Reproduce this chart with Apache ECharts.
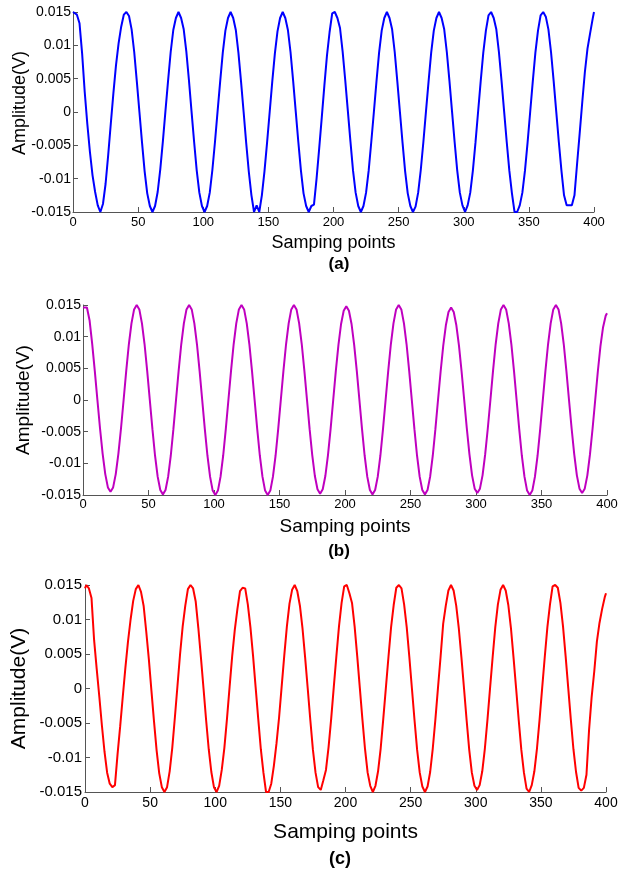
<!DOCTYPE html>
<html>
<head>
<meta charset="utf-8">
<title>Sampled waveforms</title>
<script src="https://cdn.jsdelivr.net/npm/echarts@6/dist/echarts.min.js"></script>
<style>
  html, body { margin: 0; padding: 0; background: #fff; }
  #chart { width: 619px; height: 875px; }
</style>
</head>
<body>
<div id="chart"></div>
<script>
// Sample index of every stored point: 0, then odd samples 1..399, then 400.
const samplePos = [0];
for (let s = 1; s < 400; s += 2) samplePos.push(s);
samplePos.push(400);

// Axis ticks
const xTicks = [0, 50, 100, 150, 200, 250, 300, 350, 400];
const yTicks = [-0.015, -0.01, -0.005, 0, 0.005, 0.01, 0.015];

// (a) measured signal, volts (one row per 40-sample period)
const signalA = [
  0.0150,
  0.0150, 0.0146, 0.0133, 0.0088, 0.0030, -0.0018, -0.0060, -0.0095, -0.0120, -0.0140, -0.0150, -0.0138, -0.0108, -0.0065, -0.0018, 0.0028, 0.0070, 0.0103, 0.0128, 0.0146,
  0.0150, 0.0144, 0.0124, 0.0090, 0.0046, 0.0000, -0.0046, -0.0089, -0.0122, -0.0141, -0.0150, -0.0141, -0.0120, -0.0086, -0.0044, 0.0002, 0.0047, 0.0090, 0.0123, 0.0141,
  0.0150, 0.0141, 0.0124, 0.0091, 0.0048, 0.0001, -0.0045, -0.0088, -0.0121, -0.0141, -0.0150, -0.0141, -0.0121, -0.0087, -0.0045, 0.0001, 0.0046, 0.0089, 0.0122, 0.0141,
  0.0150, 0.0141, 0.0123, 0.0089, 0.0046, 0.0000, -0.0047, -0.0090, -0.0125, -0.0150, -0.0140, -0.0150, -0.0125, -0.0089, -0.0046, 0.0000, 0.0046, 0.0088, 0.0121, 0.0141,
  0.0150, 0.0141, 0.0123, 0.0090, 0.0047, 0.0001, -0.0045, -0.0088, -0.0122, -0.0141, -0.0150, -0.0141, -0.0139, -0.0100, -0.0055, -0.0008, 0.0040, 0.0085, 0.0120, 0.0148,
  0.0150, 0.0141, 0.0126, 0.0091, 0.0048, 0.0002, -0.0044, -0.0088, -0.0121, -0.0141, -0.0150, -0.0141, -0.0121, -0.0088, -0.0045, 0.0000, 0.0046, 0.0089, 0.0122, 0.0141,
  0.0150, 0.0141, 0.0124, 0.0090, 0.0046, 0.0000, -0.0046, -0.0089, -0.0122, -0.0141, -0.0150, -0.0142, -0.0121, -0.0087, -0.0045, 0.0001, 0.0046, 0.0089, 0.0122, 0.0141,
  0.0150, 0.0141, 0.0124, 0.0090, 0.0047, 0.0001, -0.0045, -0.0088, -0.0121, -0.0140, -0.0150, -0.0140, -0.0121, -0.0088, -0.0046, 0.0000, 0.0046, 0.0089, 0.0122, 0.0145,
  0.0150, 0.0141, 0.0124, 0.0090, 0.0047, 0.0001, -0.0045, -0.0088, -0.0122, -0.0150, -0.0150, -0.0140, -0.0121, -0.0088, -0.0046, 0.0000, 0.0046, 0.0089, 0.0122, 0.0145,
  0.0150, 0.0143, 0.0124, 0.0090, 0.0047, 0.0001, -0.0045, -0.0088, -0.0125, -0.0140, -0.0140, -0.0140, -0.0125, -0.0078, -0.0032, 0.0015, 0.0060, 0.0095, 0.0118, 0.0140,
  0.0150
];

// (b) smooth signal, volts
const signalB = [
  0.0146,
  0.0148, 0.0146, 0.0126, 0.0089, 0.0046, 0.0000, -0.0045, -0.0085, -0.0117, -0.0138, -0.0145, -0.0138, -0.0117, -0.0085, -0.0045, 0.0000, 0.0046, 0.0088, 0.0121, 0.0143,
  0.0150, 0.0143, 0.0121, 0.0088, 0.0046, 0.0000, -0.0046, -0.0088, -0.0121, -0.0142, -0.0149, -0.0142, -0.0121, -0.0088, -0.0046, 0.0000, 0.0046, 0.0088, 0.0121, 0.0143,
  0.0150, 0.0143, 0.0121, 0.0088, 0.0046, 0.0000, -0.0046, -0.0088, -0.0121, -0.0143, -0.0150, -0.0143, -0.0121, -0.0088, -0.0046, 0.0000, 0.0046, 0.0088, 0.0121, 0.0143,
  0.0150, 0.0143, 0.0121, 0.0088, 0.0046, 0.0000, -0.0046, -0.0088, -0.0121, -0.0143, -0.0150, -0.0143, -0.0121, -0.0088, -0.0046, 0.0000, 0.0046, 0.0088, 0.0121, 0.0143,
  0.0150, 0.0143, 0.0121, 0.0088, 0.0046, 0.0000, -0.0046, -0.0087, -0.0120, -0.0141, -0.0148, -0.0141, -0.0120, -0.0087, -0.0046, 0.0000, 0.0046, 0.0087, 0.0120, 0.0141,
  0.0148, 0.0141, 0.0120, 0.0087, 0.0046, 0.0000, -0.0046, -0.0088, -0.0121, -0.0142, -0.0149, -0.0142, -0.0121, -0.0088, -0.0046, 0.0000, 0.0046, 0.0088, 0.0121, 0.0143,
  0.0150, 0.0143, 0.0121, 0.0088, 0.0046, 0.0000, -0.0046, -0.0088, -0.0121, -0.0142, -0.0149, -0.0142, -0.0121, -0.0088, -0.0046, 0.0000, 0.0045, 0.0086, 0.0118, 0.0139,
  0.0146, 0.0139, 0.0118, 0.0086, 0.0045, 0.0000, -0.0045, -0.0086, -0.0119, -0.0140, -0.0147, -0.0140, -0.0119, -0.0086, -0.0045, 0.0000, 0.0046, 0.0088, 0.0121, 0.0143,
  0.0150, 0.0143, 0.0121, 0.0088, 0.0046, 0.0000, -0.0046, -0.0088, -0.0121, -0.0143, -0.0150, -0.0143, -0.0121, -0.0088, -0.0046, 0.0000, 0.0046, 0.0088, 0.0121, 0.0143,
  0.0150, 0.0143, 0.0121, 0.0088, 0.0046, 0.0000, -0.0045, -0.0086, -0.0119, -0.0140, -0.0147, -0.0140, -0.0119, -0.0086, -0.0045, 0.0000, 0.0045, 0.0085, 0.0115, 0.0133,
  0.0137
];

// (c) measured signal, volts
const signalC = [
  0.0145,
  0.0150, 0.0145, 0.0131, 0.0070, 0.0028, -0.0012, -0.0054, -0.0092, -0.0122, -0.0138, -0.0143, -0.0140, -0.0095, -0.0055, -0.0012, 0.0030, 0.0068, 0.0100, 0.0127, 0.0144,
  0.0150, 0.0140, 0.0120, 0.0083, 0.0043, -0.0003, -0.0048, -0.0090, -0.0123, -0.0143, -0.0150, -0.0143, -0.0120, -0.0086, -0.0042, 0.0004, 0.0050, 0.0090, 0.0120, 0.0144,
  0.0150, 0.0145, 0.0126, 0.0088, 0.0045, 0.0000, -0.0046, -0.0088, -0.0121, -0.0143, -0.0150, -0.0141, -0.0118, -0.0086, -0.0044, 0.0002, 0.0047, 0.0085, 0.0115, 0.0141,
  0.0146, 0.0145, 0.0122, 0.0089, 0.0048, 0.0002, -0.0044, -0.0088, -0.0122, -0.0150, -0.0150, -0.0138, -0.0112, -0.0080, -0.0042, 0.0003, 0.0048, 0.0090, 0.0123, 0.0143,
  0.0150, 0.0141, 0.0120, 0.0087, 0.0045, 0.0000, -0.0046, -0.0089, -0.0122, -0.0143, -0.0147, -0.0133, -0.0118, -0.0085, -0.0044, 0.0002, 0.0047, 0.0090, 0.0124, 0.0148,
  0.0150, 0.0138, 0.0124, 0.0090, 0.0047, 0.0001, -0.0045, -0.0088, -0.0122, -0.0141, -0.0150, -0.0141, -0.0120, -0.0087, -0.0044, 0.0001, 0.0046, 0.0089, 0.0121, 0.0146,
  0.0150, 0.0145, 0.0122, 0.0089, 0.0046, 0.0000, -0.0046, -0.0089, -0.0122, -0.0142, -0.0150, -0.0142, -0.0121, -0.0087, -0.0045, 0.0001, 0.0046, 0.0094, 0.0120, 0.0142,
  0.0150, 0.0142, 0.0120, 0.0087, 0.0045, 0.0000, -0.0046, -0.0089, -0.0122, -0.0141, -0.0147, -0.0140, -0.0120, -0.0087, -0.0045, 0.0001, 0.0046, 0.0089, 0.0122, 0.0143,
  0.0150, 0.0142, 0.0121, 0.0088, 0.0045, 0.0000, -0.0046, -0.0089, -0.0122, -0.0145, -0.0150, -0.0140, -0.0120, -0.0087, -0.0045, 0.0001, 0.0046, 0.0089, 0.0122, 0.0148,
  0.0150, 0.0146, 0.0124, 0.0090, 0.0047, 0.0001, -0.0045, -0.0088, -0.0121, -0.0144, -0.0148, -0.0144, -0.0125, -0.0060, -0.0012, 0.0025, 0.0068, 0.0095, 0.0115, 0.0132,
  0.0138
];

const FONT = '"Liberation Sans", Arial, Helvetica, sans-serif';
const AXIS_COLOR = '#555';

function toPairs(values) {
  return samplePos.map((s, i) => [s, values[i]]);
}

// Panel layouts: plot rectangle, font sizes and gaps for each of the three plots
const panels = [
  { tag: '(a)', data: signalA, color: '#0000ff',
    grid: { left: 73, top: 12, width: 521, height: 200 },
    xLabel: 13, yLabel: 14, title: 18, xGap: 22, yGap: 44, yShift: 18, xMargin: 4, yMargin: 2,
    tagPos: [339, 264], tagSize: 17 },
  { tag: '(b)', data: signalB, color: '#bf00bf',
    grid: { left: 83, top: 305, width: 524, height: 190 },
    xLabel: 13, yLabel: 14, title: 19, xGap: 22, yGap: 50, yShift: 0, xMargin: 3, yMargin: 2,
    tagPos: [339, 551], tagSize: 17 },
  { tag: '(c)', data: signalC, color: '#ff0000',
    grid: { left: 85, top: 585, width: 521, height: 207 },
    xLabel: 14, yLabel: 15, title: 21, xGap: 30, yGap: 55, yShift: 0, xMargin: 4, yMargin: 3,
    tagPos: [340, 859], tagSize: 18 }
];

// Axes sit on the plot's left and bottom edges, ticks pointing into the plot
const axisLine = { show: true, onZero: false, lineStyle: { color: AXIS_COLOR, width: 1 } };
const axisTick = { show: true, inside: true, length: 5, lineStyle: { color: AXIS_COLOR, width: 1 } };

const option = {
  animation: false,
  backgroundColor: '#ffffff',
  grid: panels.map(p => Object.assign({ containLabel: false, outerBoundsMode: 'none' }, p.grid)),
  xAxis: panels.map((p, i) => ({
    type: 'value',
    gridIndex: i,
    position: 'bottom',
    min: xTicks[0],
    max: xTicks[xTicks.length - 1],
    interval: 50,
    name: 'Samping points',
    nameLocation: 'middle',
    nameGap: p.xGap,
    nameMoveOverlap: false,
    nameTextStyle: { fontFamily: FONT, fontSize: p.title, color: '#000' },
    axisLine: axisLine,
    axisTick: axisTick,
    splitLine: { show: false },
    axisLabel: { fontFamily: FONT, fontSize: p.xLabel, color: '#000', margin: p.xMargin }
  })),
  yAxis: panels.map((p, i) => ({
    type: 'value',
    gridIndex: i,
    position: 'left',
    min: yTicks[0],
    max: yTicks[yTicks.length - 1],
    interval: 0.005,
    name: 'Amplitude(V)',
    nameLocation: 'middle',
    nameGap: p.yGap,
    nameMoveOverlap: false,
    nameTextStyle: {
      fontFamily: FONT, fontSize: p.title, color: '#000',
      padding: [0, 0, 0, p.yShift]
    },
    axisLine: axisLine,
    axisTick: axisTick,
    splitLine: { show: false },
    axisLabel: {
      fontFamily: FONT, fontSize: p.yLabel, color: '#000', margin: p.yMargin,
      formatter: v => String(Number(v.toFixed(3)))
    }
  })),
  series: panels.map((p, i) => ({
    type: 'line',
    xAxisIndex: i,
    yAxisIndex: i,
    data: toPairs(p.data),
    showSymbol: false,
    symbol: 'none',
    clip: false,
    lineStyle: { color: p.color, width: 2 },
    emphasis: { disabled: true }
  })),
  graphic: panels.map(p => ({
    type: 'text',
    x: p.tagPos[0],
    y: p.tagPos[1],
    style: {
      text: p.tag,
      fontFamily: FONT,
      fontSize: p.tagSize,
      fontWeight: 'bold',
      fill: '#000',
      align: 'center',
      verticalAlign: 'middle'
    }
  }))
};

const chart = echarts.init(document.getElementById('chart'), null, { renderer: 'canvas' });
chart.setOption(option);
</script>
</body>
</html>
